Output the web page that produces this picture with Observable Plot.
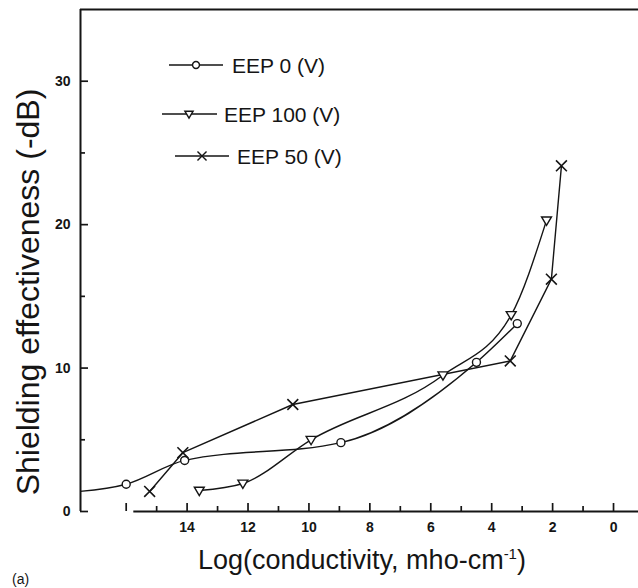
<!DOCTYPE html>
<html><head><meta charset="utf-8">
<script src="https://cdn.jsdelivr.net/npm/d3@7"></script>
<script src="https://cdn.jsdelivr.net/npm/@observablehq/plot@0.6"></script>
<style>html,body{margin:0;padding:0;background:#fff;overflow:hidden} svg{display:block}</style>
</head><body><div id="chart"></div>
<script>
// ---- data ----
const seriesNames = ["EEP 0 (V)", "EEP 100 (V)", "EEP 50 (V)"];
const eep0X = [17.8, 16.0, 14.08, 8.95, 4.5, 3.16];
const eep0Y = [1.35, 1.9, 3.56, 4.8, 10.4, 13.1];
const eep100X = [13.6, 12.17, 9.93, 5.6, 3.36, 2.2];
const eep100Y = [1.46, 1.95, 5.0, 9.5, 13.7, 20.3];
const eep50X = [15.23, 14.14, 10.53, 3.39, 2.04, 1.71];
const eep50Y = [1.4, 4.1, 7.46, 10.5, 16.2, 24.1];
const xMajorTicks = [16, 14, 12, 10, 8, 6, 4, 2, 0];
const xTickLabels = ["", "14", "12", "10", "8", "6", "4", "2", "0"];
const xMinorTicks = [15, 13, 11, 9, 7, 5, 3, 1];
const yMajorTicks = [0, 10, 20, 30];
const yTickLabels = ["0", "10", "20", "30"];
const yMinorTicks = [5, 15, 25];
const xTitle = "Log(conductivity, mho-cm";
const xTitleSup = "-1";
const yTitle = "Shielding effectiveness (-dB)";
const panelTag = "(a)";

// ---- layout ----
const W = 638, H = 588, ML = 80, MR = 0, MT = 9, MB = 77;
const xDomain = [17.5, -0.82];
const yDomain = [0, 35];
const bottomAxisStart = 15.75;
const font = "'Liberation Sans', Arial, Helvetica, sans-serif";
const ink = "#151515";
const pxPerX = (W - ML - MR) / Math.abs(xDomain[0] - xDomain[1]);
const pxPerY = (H - MT - MB) / Math.abs(yDomain[1] - yDomain[0]);
const major = 8, minor = 5; // inward tick lengths in px

const d0 = eep0X.map((x, i) => ({x, y: eep0Y[i]}));
const d100 = eep100X.map((x, i) => ({x, y: eep100Y[i]}));
const d50 = eep50X.map((x, i) => ({x, y: eep50Y[i]}));

const triDown = {draw(ctx, size) {
  const r = Math.sqrt(size / Math.PI);
  ctx.moveTo(-r * 1.1, -r * 0.75);
  ctx.lineTo(r * 1.1, -r * 0.75);
  ctx.lineTo(0, r * 1.1);
  ctx.closePath();
}};

const lineStyle = {stroke: ink, strokeWidth: 1.4, clip: true};
const tickStyle = {stroke: ink, strokeWidth: 1.7};

const chart = Plot.plot({
  width: W, height: H,
  marginLeft: ML, marginRight: MR, marginTop: MT, marginBottom: MB,
  x: {domain: xDomain, axis: null},
  y: {domain: yDomain, axis: null},
  style: {fontFamily: font, background: "white", color: ink},
  marks: [
    // frame lines
    Plot.ruleX([xDomain[0]], {y1: yDomain[0], y2: yDomain[1], stroke: ink, strokeWidth: 2}),
    Plot.ruleY([yDomain[1]], {x1: xDomain[0], x2: xDomain[1], stroke: ink, strokeWidth: 2}),
    Plot.ruleY([yDomain[0]], {x1: bottomAxisStart, x2: xDomain[1], stroke: ink, strokeWidth: 2}),
    // inward ticks
    Plot.ruleX(xMajorTicks, {x: d => d, y1: yDomain[0], y2: yDomain[0] + major / pxPerY, ...tickStyle}),
    Plot.ruleX(xMinorTicks, {x: d => d, y1: yDomain[0], y2: yDomain[0] + minor / pxPerY, ...tickStyle}),
    Plot.ruleY(yMajorTicks, {y: d => d, x1: xDomain[0], x2: xDomain[0] - major / pxPerX, ...tickStyle}),
    Plot.ruleY(yMinorTicks, {y: d => d, x1: xDomain[0], x2: xDomain[0] - minor / pxPerX, ...tickStyle}),
    // tick labels
    Plot.axisX(xMajorTicks, {anchor: "bottom", tickSize: 0, tickPadding: 11, tickFormat: (d) => xTickLabels[xMajorTicks.indexOf(d)], fontSize: 14, fontWeight: "bold", label: null}),
    Plot.axisY(yMajorTicks, {anchor: "left", tickSize: 0, tickPadding: 10, tickFormat: (d) => yTickLabels[yMajorTicks.indexOf(d)], fontSize: 14, fontWeight: "bold", label: null}),
    // series
    Plot.line(d0, {x: "x", y: "y", curve: "monotone-x", ...lineStyle}),
    Plot.line(d100, {x: "x", y: "y", curve: "monotone-x", ...lineStyle}),
    Plot.line(d50, {x: "x", y: "y", curve: "linear", ...lineStyle}),
    Plot.dot(d0, {x: "x", y: "y", r: 4, symbol: "circle", stroke: ink, fill: "white", strokeWidth: 1.4, clip: true}),
    Plot.dot(d100, {x: "x", y: "y", r: 4.5, symbol: triDown, stroke: ink, fill: "white", strokeWidth: 1.4, clip: true}),
    Plot.dot(d50, {x: "x", y: "y", r: 5, symbol: "times", stroke: ink, strokeWidth: 1.6, clip: true})
  ]
});
document.getElementById("chart").appendChild(chart);

// ---- titles and legend (layout only) ----
const svg = d3.select(chart.tagName.toLowerCase() === "svg" ? chart : chart.querySelector("svg"));

const xt = svg.append("text").attr("x", 362).attr("y", 569).attr("text-anchor", "middle")
  .attr("font-family", font).attr("font-size", 27).attr("fill", ink);
xt.append("tspan").text(xTitle);
xt.append("tspan").attr("font-size", 15).attr("dy", -10).text(xTitleSup);
xt.append("tspan").attr("dy", 10).text(")");

svg.append("text").attr("transform", "translate(39,292) rotate(-90)").attr("text-anchor", "middle")
  .attr("font-family", font).attr("font-size", 32).attr("fill", ink).text(yTitle);

svg.append("text").attr("x", 12).attr("y", 584).attr("text-anchor", "start").attr("font-family", font)
  .attr("font-size", 14).attr("fill", ink).text(panelTag);

const legendRows = [
  {x1: 169, x2: 223, mx: 196, y: 65, tx: 232, sym: "circle"},
  {x1: 162, x2: 217, mx: 189, y: 114, tx: 224, sym: "tri"},
  {x1: 175, x2: 229, mx: 202, y: 156, tx: 237, sym: "x"}
];
legendRows.forEach((r, i) => {
  const g = svg.append("g");
  g.append("line").attr("x1", r.x1).attr("x2", r.x2).attr("y1", r.y).attr("y2", r.y).attr("stroke", ink).attr("stroke-width", 1.4);
  let path;
  if (r.sym === "circle") path = d3.symbol(d3.symbolCircle, Math.PI * 12)();
  else if (r.sym === "tri") path = d3.symbol(triDown, Math.PI * 14)();
  else path = d3.symbol(d3.symbolX, 55)();
  g.append("path").attr("d", path).attr("transform", `translate(${r.mx},${r.y})`)
    .attr("fill", r.sym === "x" ? "none" : "white").attr("stroke", ink).attr("stroke-width", 1.4);
  g.append("text").attr("x", r.tx).attr("y", r.y).attr("dy", "0.36em").attr("text-anchor", "start")
    .attr("font-family", font).attr("font-size", 21).attr("fill", ink).text(seriesNames[i]);
});
</script>
</body></html>
